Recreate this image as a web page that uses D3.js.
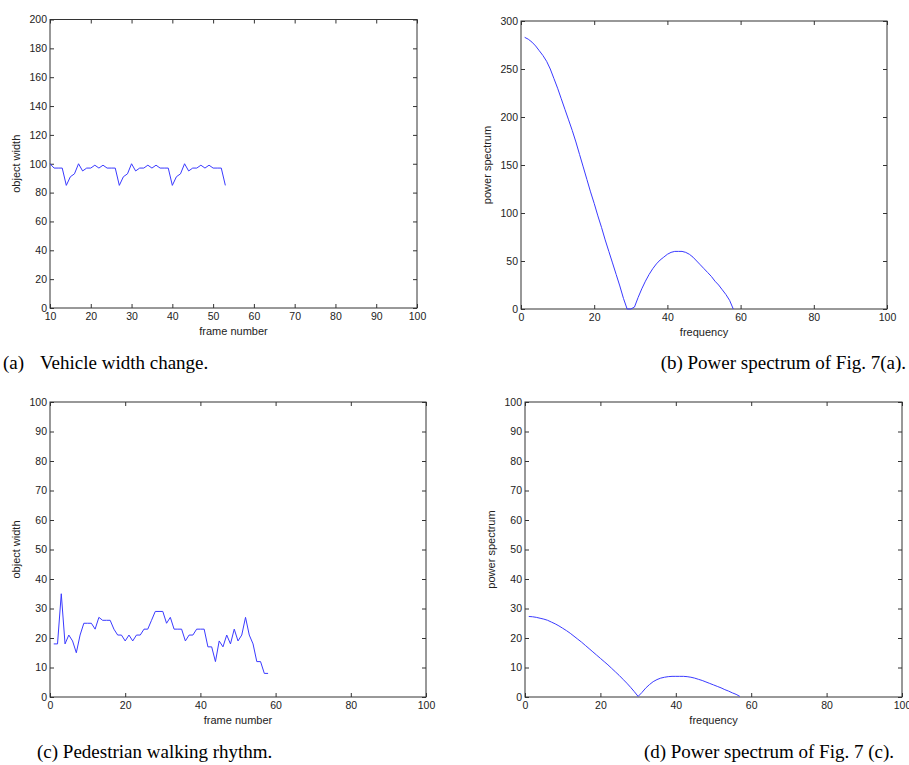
<!DOCTYPE html>
<html>
<head>
<meta charset="utf-8">
<script src="https://cdn.jsdelivr.net/npm/d3@7"></script>
<style>
    body { margin: 0; background: #fff; }
    svg { display: block; }
    .tick text { font-family: "Liberation Sans", Arial, sans-serif; font-size: 10.5px; fill: #222; }
    .tick line { stroke: #333; }
    .lbl { font-family: "Liberation Sans", Arial, sans-serif; font-size: 11px; fill: #222; }
    .cap { font-family: "Liberation Serif", "Times New Roman", serif; font-size: 19px; fill: #000; }
</style>
</head>
<body>
<svg id="fig" width="909" height="765"></svg>
<script>
// (a) vehicle width per frame
const vehicleFrames = [10, 11, 12, 13, 14, 15, 16, 17, 18, 19, 20, 21, 22, 23, 24, 25, 26, 27, 28, 29, 30, 31,
    32, 33, 34, 35, 36, 37, 38, 39, 40, 41, 42, 43, 44, 45, 46, 47, 48, 49, 50, 51, 52, 53];
const vehicleWidth = [100, 97, 97, 97, 85, 91, 93, 100, 95, 97, 97, 99, 97, 99, 97, 97, 97, 85, 91, 93, 100, 95,
    97, 97, 99, 97, 99, 97, 97, 97, 85, 91, 93, 100, 95, 97, 97, 99, 97, 99, 97, 97, 97, 85];

// (b) power spectrum of (a)
const vehicleFreq = [1, 2, 3, 4, 5, 6, 7, 8, 9, 10, 11, 12, 13, 14, 15, 16, 17, 18, 19, 20, 21, 22, 23, 24, 25,
    26, 27, 28, 29, 30, 31, 32, 33, 34, 35, 36, 37, 38, 39, 40, 41, 42, 43, 44, 45, 46, 47, 48, 49, 50, 51, 52,
    53, 54, 55, 56, 57, 58];
const vehiclePower = [283, 281, 278, 274, 269, 264, 258, 250, 240, 230, 219, 208, 197, 186, 174, 161, 148, 135,
    122, 110, 97, 85, 72, 60, 48, 36, 24, 11, 0, 0, 2, 12, 21, 29, 36, 42, 47, 51, 54, 57, 59, 60, 60, 60, 59, 57,
    54, 50, 46, 42, 38, 34, 29, 25, 20, 15, 9, 0];

// (c) pedestrian width per frame
const pedFrames = [1, 2, 3, 4, 5, 6, 7, 8, 9, 10, 11, 12, 13, 14, 15, 16, 17, 18, 19, 20, 21, 22, 23, 24, 25, 26,
    27, 28, 29, 30, 31, 32, 33, 34, 35, 36, 37, 38, 39, 40, 41, 42, 43, 44, 45, 46, 47, 48, 49, 50, 51, 52, 53,
    54, 55, 56, 57, 58];
const pedWidth = [18, 18, 35, 18, 21, 19, 15, 21, 25, 25, 25, 23, 27, 26, 26, 26, 23, 21, 21, 19, 21, 19, 21, 21,
    23, 23, 26, 29, 29, 29, 25, 27, 23, 23, 23, 19, 21, 21, 23, 23, 23, 17, 17, 12, 19, 17, 21, 18, 23, 19, 21,
    27, 21, 18, 12, 12, 8, 8];

// (d) power spectrum of (c)
const pedFreq = [1, 2, 3, 4, 5, 6, 7, 8, 9, 10, 11, 12, 13, 14, 15, 16, 17, 18, 19, 20, 21, 22, 23, 24, 25, 26,
    27, 28, 29, 30, 31, 32, 33, 34, 35, 36, 37, 38, 39, 40, 41, 42, 43, 44, 45, 46, 47, 48, 49, 50, 51, 52, 53,
    54, 55, 56, 57];
const pedPower = [27.3, 27.2, 27, 26.7, 26.4, 26, 25.4, 24.8, 24.1, 23.3, 22.5, 21.6, 20.6, 19.6, 18.6, 17.5,
    16.4, 15.3, 14.2, 13.1, 12, 10.9, 9.7, 8.5, 7.3, 6, 4.7, 3.3, 1.8, 0.2, 1.5, 3, 4.2, 5.2, 5.9, 6.4, 6.7, 6.9,
    7, 7, 7, 7, 6.9, 6.7, 6.4, 6, 5.6, 5.1, 4.6, 4.1, 3.6, 3.1, 2.5, 2, 1.4, 0.9, 0.2];

const xTicksA = [10, 20, 30, 40, 50, 60, 70, 80, 90, 100];
const xTicksB = [0, 20, 40, 60, 80, 100];
const yTicksA = [0, 20, 40, 60, 80, 100, 120, 140, 160, 180, 200];
const yTicksB = [0, 50, 100, 150, 200, 250, 300];
const yTicksC = [0, 10, 20, 30, 40, 50, 60, 70, 80, 90, 100];

const panels = [
    { box: [50, 417, 19.5, 308], xd: [10, 100], yd: [0, 200], xt: xTicksA, yt: yTicksA,
      xs: vehicleFrames, ys: vehicleWidth, xl: "frame number", yl: "object width" },
    { box: [521, 887, 21, 309], xd: [0, 100], yd: [0, 300], xt: xTicksB, yt: yTicksB,
      xs: vehicleFreq, ys: vehiclePower, xl: "frequency", yl: "power spectrum" },
    { box: [50, 426, 402, 697], xd: [0, 100], yd: [0, 100], xt: xTicksB, yt: yTicksC,
      xs: pedFrames, ys: pedWidth, xl: "frame number", yl: "object width" },
    { box: [525, 902, 402, 697], xd: [0, 100], yd: [0, 100], xt: xTicksB, yt: yTicksC,
      xs: pedFreq, ys: pedPower, xl: "frequency", yl: "power spectrum" }
];

const svg = d3.select("#fig");

panels.forEach(function(p) {
    const [l, r, t, b] = p.box;
    const x = d3.scaleLinear().domain(p.xd).range([l, r]);
    const y = d3.scaleLinear().domain(p.yd).range([b, t]);
    const g = svg.append("g");

    // inward ticks on all four sides, labels only bottom/left
    g.append("g").attr("transform", `translate(0,${b})`)
        .call(d3.axisBottom(x).tickValues(p.xt).tickSize(-4).tickSizeOuter(0).tickPadding(5).tickFormat(d3.format("d")))
        .call(s => s.select(".domain").remove());
    g.append("g").attr("transform", `translate(0,${t})`)
        .call(d3.axisTop(x).tickValues(p.xt).tickSize(-4).tickSizeOuter(0).tickFormat(""))
        .call(s => s.select(".domain").remove());
    g.append("g").attr("transform", `translate(${l},0)`)
        .call(d3.axisLeft(y).tickValues(p.yt).tickSize(-4).tickSizeOuter(0).tickPadding(3).tickFormat(d3.format("d")))
        .call(s => s.select(".domain").remove());
    g.append("g").attr("transform", `translate(${r},0)`)
        .call(d3.axisRight(y).tickValues(p.yt).tickSize(-4).tickSizeOuter(0).tickFormat(""))
        .call(s => s.select(".domain").remove());

    g.append("rect")
        .attr("x", l).attr("y", t)
        .attr("width", r - l).attr("height", b - t)
        .attr("fill", "none").attr("stroke", "#333").attr("stroke-width", 1);

    const line = d3.line()
        .x((d, i) => x(p.xs[i]))
        .y(d => y(d));

    g.append("path")
        .datum(p.ys)
        .attr("d", line)
        .attr("fill", "none")
        .attr("stroke", "#3a3aff")
        .attr("stroke-width", 1);

    g.append("text").attr("class", "lbl")
        .attr("x", (l + r) / 2).attr("y", b + 27)
        .attr("text-anchor", "middle")
        .text(p.xl);
    g.append("text").attr("class", "lbl")
        .attr("transform", `translate(${l - 30},${(t + b) / 2}) rotate(-90)`)
        .attr("text-anchor", "middle")
        .text(p.yl);
});

// captions
svg.append("text").attr("class", "cap").attr("x", 3).attr("y", 369).text("(a)");
svg.append("text").attr("class", "cap").attr("x", 40).attr("y", 369)
    .text("Vehicle width change.");
svg.append("text").attr("class", "cap").attr("x", 906).attr("y", 369).attr("text-anchor", "end")
    .text("(b) Power spectrum of Fig. 7(a).");
svg.append("text").attr("class", "cap").attr("x", 37).attr("y", 758)
    .text("(c) Pedestrian walking rhythm.");
svg.append("text").attr("class", "cap").attr("x", 894).attr("y", 758).attr("text-anchor", "end")
    .text("(d) Power spectrum of Fig. 7 (c).");
</script>
</body>
</html>
